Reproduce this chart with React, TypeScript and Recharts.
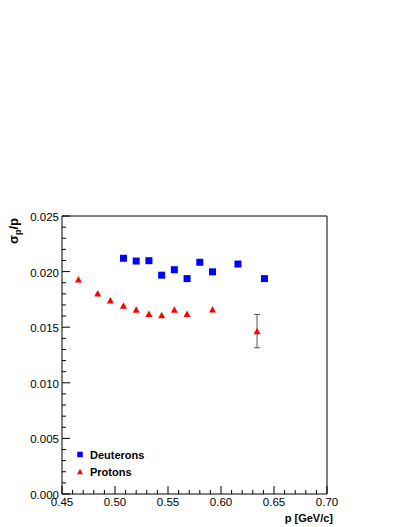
import { ScatterChart, Scatter, XAxis, YAxis, ErrorBar, ReferenceArea, Legend, Label } from 'recharts';

const deuteronP = [0.508, 0.52, 0.532, 0.544, 0.556, 0.568, 0.58, 0.592, 0.616, 0.641];
const deuteronRes = [0.0212, 0.02095, 0.02098, 0.01968, 0.02017, 0.01937, 0.02084, 0.01998, 0.02068, 0.01937];

const protonP = [0.4655, 0.4837, 0.4956, 0.508, 0.52, 0.532, 0.544, 0.556, 0.568, 0.592, 0.634];
const protonRes = [0.0193, 0.01805, 0.01742, 0.01694, 0.01658, 0.0162, 0.0161, 0.01658, 0.0162, 0.0166, 0.01465];
const protonErr = [null, null, null, null, null, null, null, null, null, null, 0.0015];

const xTicks = [
  0.45, 0.46, 0.47, 0.48, 0.49, 0.5, 0.51, 0.52, 0.53, 0.54, 0.55, 0.56, 0.57,
  0.58, 0.59, 0.6, 0.61, 0.62, 0.63, 0.64, 0.65, 0.66, 0.67, 0.68, 0.69, 0.7,
];
const xLabels = ['0.45', '0.50', '0.55', '0.60', '0.65', '0.70'];

const yTicks = [
  0, 0.001, 0.002, 0.003, 0.004, 0.005, 0.006, 0.007, 0.008, 0.009, 0.01, 0.011, 0.012,
  0.013, 0.014, 0.015, 0.016, 0.017, 0.018, 0.019, 0.02, 0.021, 0.022, 0.023, 0.024, 0.025,
];
const yLabels = ['0.000', '0.005', '0.010', '0.015', '0.020', '0.025'];

const seriesNames = ['Deuterons', 'Protons'];

const deuterons = deuteronP.map((p, i) => ({ p, res: deuteronRes[i] }));
const protons = protonP.map((p, i) => ({ p, res: protonRes[i], err: protonErr[i] }));

const FONT = '"Liberation Sans", Arial, sans-serif';

const isMajor = (v: number, step: number) => Math.abs(v / step - Math.round(v / step)) < 1e-6;

const Square = (props: any) => {
  const { cx, cy } = props;
  return <rect x={cx - 3.5} y={cy - 3.5} width={7} height={7} fill="#0000ff" />;
};

const Triangle = (props: any) => {
  const { cx, cy } = props;
  return (
    <polygon
      points={`${cx - 3.5},${cy + 3.2} ${cx + 3.5},${cy + 3.2} ${cx},${cy - 3.3}`}
      fill="#ff0000"
    />
  );
};

const YTick = (props: any) => {
  const { x, y, payload } = props;
  const major = isMajor(payload.value, 0.005);
  const idx = Math.round(payload.value / 0.005);
  return (
    <g>
      <line x1={x} y1={y} x2={x + (major ? 8 : 4)} y2={y} stroke="#000" />
      {major && (
        <text x={x - 3} y={y + 5} textAnchor="end" fontSize={11.5} fontFamily={FONT} fill="#000">
          {yLabels[idx]}
        </text>
      )}
    </g>
  );
};

const XTick = (props: any) => {
  const { x, y, payload } = props;
  const major = isMajor(payload.value, 0.05);
  const idx = Math.round((payload.value - 0.45) / 0.05);
  return (
    <g>
      <line x1={x} y1={y} x2={x} y2={y - (major ? 8 : 4)} stroke="#000" />
      {major && (
        <text x={x} y={y + 12} textAnchor="middle" fontSize={11.5} fontFamily={FONT} fill="#000">
          {xLabels[idx]}
        </text>
      )}
    </g>
  );
};

const LegendBox = () => (
  <svg width={90} height={36} style={{ display: 'block' }}>
    <rect x={5.25} y={6.75} width={5.5} height={5.5} fill="#0000ff" />
    <text x={18} y={13.8} fontSize={11} fontWeight="bold" fontFamily={FONT} fill="#000">
      {seriesNames[0]}
    </text>
    <polygon points="5,29.2 11,29.2 8,23.8" fill="#ff0000" />
    <text x={18} y={30.8} fontSize={11} fontWeight="bold" fontFamily={FONT} fill="#000">
      {seriesNames[1]}
    </text>
  </svg>
);

export default function App() {
  return (
    <div style={{ position: 'absolute', left: 0, top: 0, background: '#fff' }}>
      <ScatterChart
        width={407}
        height={527}
        margin={{ top: 216, right: 80, bottom: 0, left: 0 }}
      >
        <XAxis
          type="number"
          dataKey="p"
          domain={[0.45, 0.7]}
          ticks={xTicks}
          interval={0}
          tickSize={0}
          tickMargin={0}
          tickLine={false}
          axisLine={false}
          tick={<XTick />}
          height={33}
          allowDataOverflow
        >
          <Label
            content={() => (
              <text x={333} y={522} textAnchor="end" fontSize={11} fontWeight="bold" fontFamily={FONT} fill="#000">
                p [GeV/c]
              </text>
            )}
          />
        </XAxis>
        <YAxis
          type="number"
          dataKey="res"
          domain={[0, 0.025]}
          ticks={yTicks}
          interval={0}
          tickSize={0}
          tickMargin={0}
          tickLine={false}
          axisLine={false}
          tick={<YTick />}
          width={62}
          allowDataOverflow
        >
          <Label
            content={() => (
              <text
                x={18}
                y={218}
                transform="rotate(-90, 18, 218)"
                textAnchor="end"
                fontSize={13}
                fontWeight="bold"
                fontFamily={FONT}
                fill="#000"
              >
                σ<tspan dy={3} fontSize={9}>p</tspan>
                <tspan dy={-3}>/p</tspan>
              </text>
            )}
          />
        </YAxis>
        <ReferenceArea x1={0.45} x2={0.7} y1={0} y2={0.025} fill="none" stroke="#000" strokeWidth={1} />
        <Legend
          layout="vertical"
          align="center"
          verticalAlign="middle"
          content={<LegendBox />}
          wrapperStyle={{ position: 'absolute', left: 72, top: 445, width: 90, height: 36 }}
        />
        <Scatter name={seriesNames[0]} data={deuterons} shape={<Square />} isAnimationActive={false} />
        <Scatter name={seriesNames[1]} data={protons} shape={<Triangle />} isAnimationActive={false}>
          <ErrorBar dataKey="err" direction="y" width={3} stroke="#555" strokeWidth={1} />
        </Scatter>
      </ScatterChart>
    </div>
  );
}
